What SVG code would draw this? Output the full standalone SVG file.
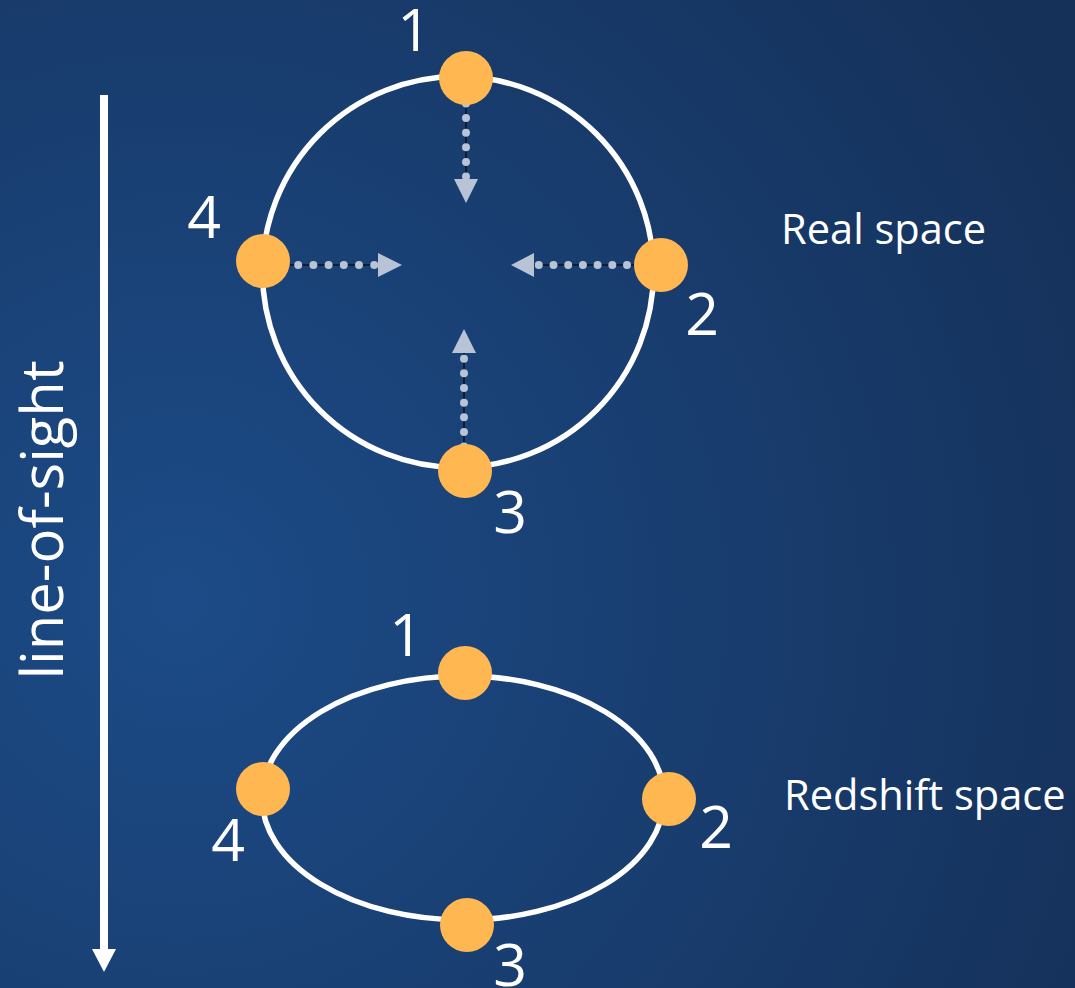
<svg xmlns="http://www.w3.org/2000/svg" width="1075" height="988" viewBox="0 0 1075 988">
  <defs>
    <radialGradient id="bg" gradientUnits="userSpaceOnUse" cx="180" cy="600" r="1000">
      <stop offset="0" stop-color="#1c4b87"/>
      <stop offset="1" stop-color="#15315a"/>
    </radialGradient>
  </defs>
  <style>
    .ring { fill: none; stroke: #ffffff; stroke-width: 5.5; }
    .dot { fill: #ffb851; }
    .num { font-family: "Open Sans", "Liberation Sans", sans-serif; font-size: 59px; fill: #ffffff; text-anchor: middle; }
    .lbl { font-family: "Open Sans", "Liberation Sans", sans-serif; font-size: 41.6px; fill: #ffffff; }
    .under { stroke: #0d1d36; stroke-width: 2; fill: none; }
    .dots { stroke: #b8c4d5; stroke-width: 8; stroke-linecap: round; fill: none; }
    .head { fill: #b8c4d5; }
  </style>
  <rect x="0" y="0" width="1075" height="988" fill="url(#bg)"/>

  <g id="line-of-sight">
    <line x1="104" y1="95" x2="104" y2="952" stroke="#ffffff" stroke-width="8"/>
    <polygon points="92,949 116,949 104,972" fill="#ffffff"/>
    <text class="num" x="0" y="0" transform="translate(63,520) rotate(-90)" style="font-size:58px">line-of-sight</text>
  </g>

  <g id="real-space-ring">
    <circle class="ring" cx="458" cy="272" r="195.5"/>
    <text class="lbl" x="781" y="244">Real space</text>
  </g>

  <g id="connectors">
    <line class="under" x1="466" y1="104" x2="466" y2="180"/>
    <line class="dots" x1="466" y1="103.5" x2="466" y2="177" stroke-dasharray="0 14.6"/>
    <polygon class="head" points="454,179 478,179 466,203"/>

    <line class="under" x1="290" y1="265" x2="379" y2="265"/>
    <line class="dots" x1="283" y1="265" x2="376" y2="265" stroke-dasharray="0 15.2"/>
    <polygon class="head" points="378,253 378,277 402,265"/>

    <line class="under" x1="634" y1="265" x2="533" y2="265"/>
    <line class="dots" x1="641.7" y1="265" x2="537" y2="265" stroke-dasharray="0 14.7"/>
    <polygon class="head" points="534,253 534,277 511,265"/>

    <line class="under" x1="464" y1="445" x2="464" y2="352"/>
    <line class="dots" x1="464" y1="446.6" x2="464" y2="356" stroke-dasharray="0 14.65"/>
    <polygon class="head" points="452,353 476,353 464,329"/>
  </g>

  <g id="rs-1"><circle class="dot" cx="466" cy="78" r="27"/><text class="num" x="414" y="51">1</text></g>
  <g id="rs-2"><circle class="dot" cx="661" cy="265" r="27"/><text class="num" x="702" y="335">2</text></g>
  <g id="rs-3"><circle class="dot" cx="465" cy="471" r="27"/><text class="num" x="510" y="533">3</text></g>
  <g id="rs-4"><circle class="dot" cx="263" cy="261" r="27"/><text class="num" x="204" y="238">4</text></g>

  <g id="redshift-space-ring">
    <ellipse class="ring" cx="463" cy="798" rx="201" ry="122"/>
    <text class="lbl" x="784" y="810">Redshift space</text>
  </g>

  <g id="zs-1"><circle class="dot" cx="465" cy="673" r="27"/><text class="num" x="406" y="656">1</text></g>
  <g id="zs-2"><circle class="dot" cx="669" cy="799" r="27"/><text class="num" x="716" y="848">2</text></g>
  <g id="zs-3"><circle class="dot" cx="467" cy="925" r="27"/><text class="num" x="510" y="986">3</text></g>
  <g id="zs-4"><circle class="dot" cx="263" cy="789" r="27"/><text class="num" x="228" y="861">4</text></g>
</svg>
